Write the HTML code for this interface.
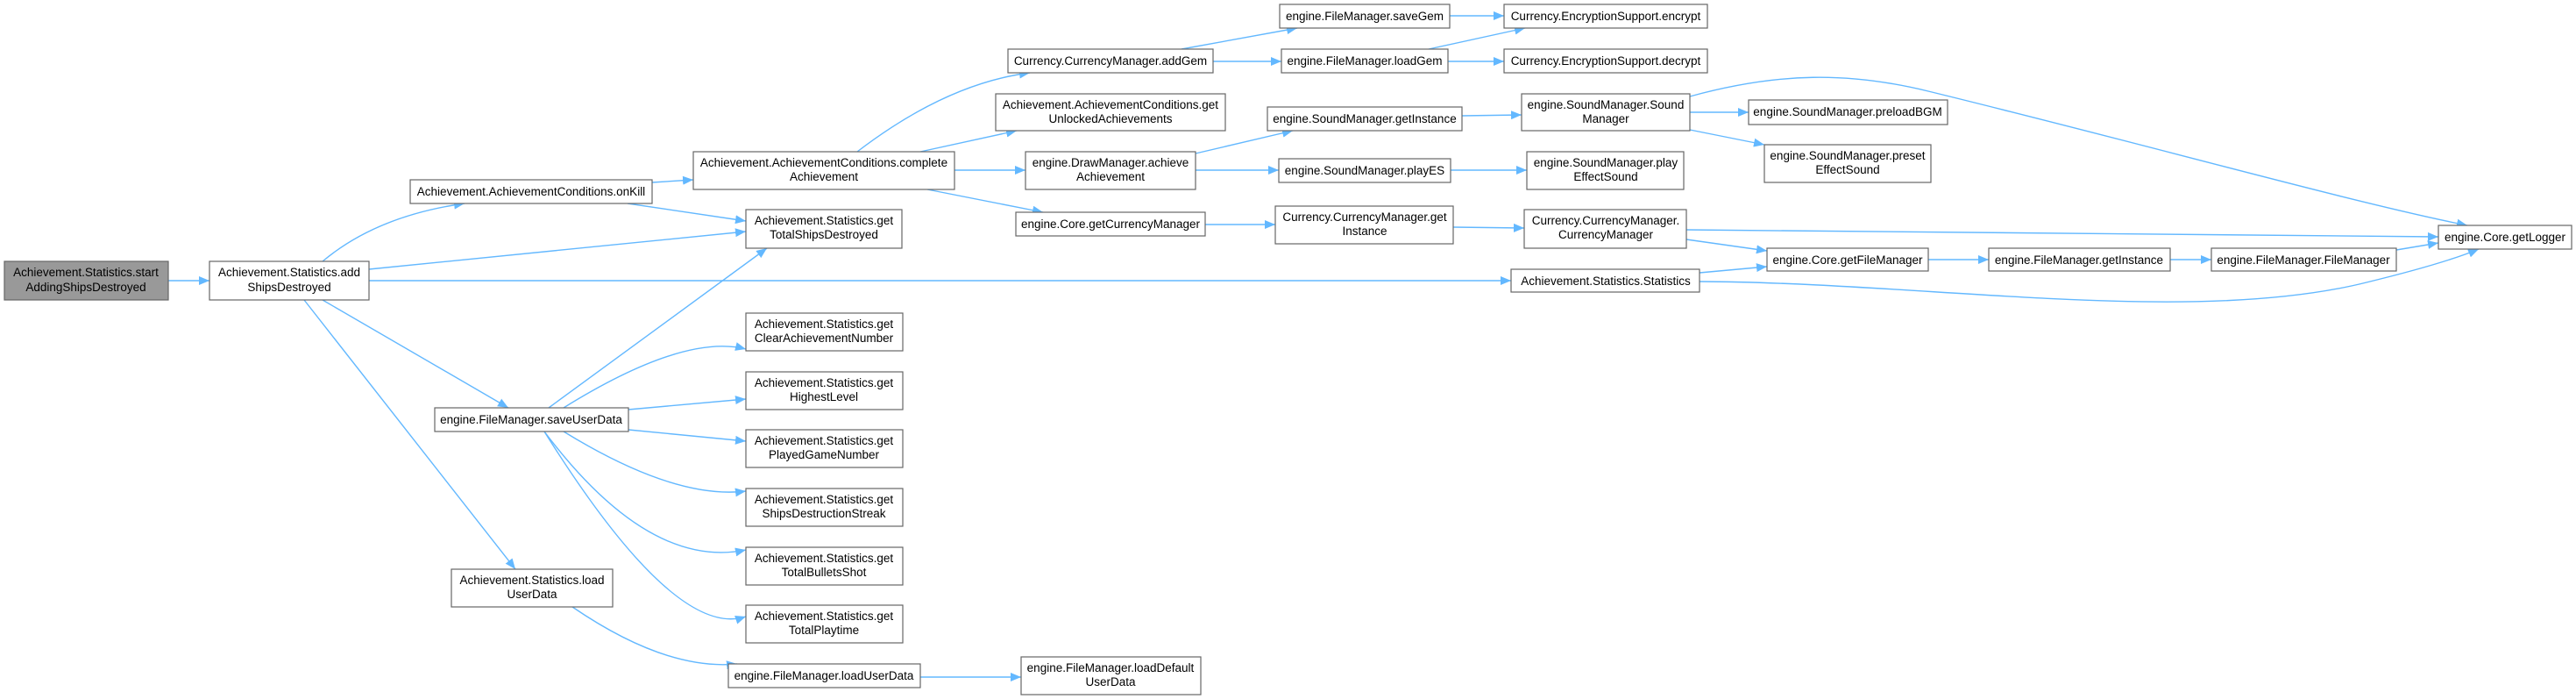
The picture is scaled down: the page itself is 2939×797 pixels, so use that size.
<!DOCTYPE html>
<html><head><meta charset="utf-8"><style>
html,body{margin:0;padding:0;background:#fff;}
svg{display:block;}
text{font-family:"Liberation Sans",Arial,sans-serif;font-size:13.5px;fill:#000;text-anchor:middle;}
.n{fill:#fff;stroke:#666;stroke-width:1.2;}
.g{fill:#999;stroke:#666;stroke-width:1.2;}
.e{fill:none;stroke:#63B8FF;stroke-width:1.4;marker-end:url(#a);}
</style></head><body>
<svg width="2939" height="797" viewBox="0 0 2939 797" xmlns="http://www.w3.org/2000/svg">
<defs><marker id="a" markerUnits="userSpaceOnUse" markerWidth="12" markerHeight="10" refX="12" refY="5" orient="auto"><path d="M0,0 L12,5 L0,10 z" fill="#63B8FF"/></marker></defs>

<!-- edges -->
<path class="e" d="M192,320 L239,320"/>
<path class="e" d="M368,298 Q430,246 530,232"/>
<path class="e" d="M421,307 L851,264"/>
<path class="e" d="M421,320 L1724,320"/>
<path class="e" d="M368,342 L580,465"/>
<path class="e" d="M347,342 L588,649"/>
<path class="e" d="M744,208 L791,205"/>
<path class="e" d="M716,232 L851,252"/>
<path class="e" d="M978,173 Q1080,95 1175,83"/>
<path class="e" d="M1050,173 L1160,149"/>
<path class="e" d="M1089,194 L1170,194"/>
<path class="e" d="M1058,216 L1190,242"/>
<path class="e" d="M626,465 L875,283"/>
<path class="e" d="M643,465 Q780,380 851,398"/>
<path class="e" d="M717,467 L851,455"/>
<path class="e" d="M717,490 L851,503"/>
<path class="e" d="M643,492 Q770,570 851,560"/>
<path class="e" d="M621,492 Q740,650 851,627"/>
<path class="e" d="M621,492 Q770,730 851,703"/>
<path class="e" d="M653,692 Q760,765 841,757"/>
<path class="e" d="M1050,772 L1165,772"/>
<path class="e" d="M1348,56 L1480,32"/>
<path class="e" d="M1384,70 L1462,70"/>
<path class="e" d="M1654,18 L1716,18"/>
<path class="e" d="M1630,56 L1740,32"/>
<path class="e" d="M1652,70 L1716,70"/>
<path class="e" d="M1364,175 L1475,149"/>
<path class="e" d="M1364,194 L1459,194"/>
<path class="e" d="M1375,256 L1455,256"/>
<path class="e" d="M1668,132 L1736,131"/>
<path class="e" d="M1655,194 L1742,194"/>
<path class="e" d="M1658,259 L1739,260"/>
<path class="e" d="M1928,128 L1995,128"/>
<path class="e" d="M1928,148 L2013,165"/>
<path class="e" d="M1928,110 C2030,82 2110,82 2200,104 C2450,165 2680,230 2815,257"/>
<path class="e" d="M1924,262 L2782,270"/>
<path class="e" d="M1924,273 L2016,286"/>
<path class="e" d="M1939,311 L2016,304"/>
<path class="e" d="M1939,321 C2200,322 2500,372 2700,322 Q2790,300 2828,284"/>
<path class="e" d="M2200,296 L2269,296"/>
<path class="e" d="M2476,296 L2523,296"/>
<path class="e" d="M2734,285 L2782,277"/>

<!-- nodes -->
<rect class="g" x="5" y="298" width="187" height="44"/><text x="98" y="315">Achievement.Statistics.start</text><text x="98" y="332">AddingShipsDestroyed</text>
<rect class="n" x="239" y="298" width="182" height="44"/><text x="330" y="315">Achievement.Statistics.add</text><text x="330" y="332">ShipsDestroyed</text>
<rect class="n" x="468" y="205" width="276" height="27"/><text x="606" y="223">Achievement.AchievementConditions.onKill</text>
<rect class="n" x="791" y="173" width="298" height="43"/><text x="940" y="190">Achievement.AchievementConditions.complete</text><text x="940" y="206">Achievement</text>
<rect class="n" x="851" y="239" width="178" height="44"/><text x="940" y="256">Achievement.Statistics.get</text><text x="940" y="272">TotalShipsDestroyed</text>
<rect class="n" x="496" y="465" width="221" height="27"/><text x="606" y="483">engine.FileManager.saveUserData</text>
<rect class="n" x="851" y="357" width="179" height="43"/><text x="940" y="374">Achievement.Statistics.get</text><text x="940" y="390">ClearAchievementNumber</text>
<rect class="n" x="851" y="424" width="179" height="43"/><text x="940" y="441">Achievement.Statistics.get</text><text x="940" y="457">HighestLevel</text>
<rect class="n" x="851" y="490" width="179" height="43"/><text x="940" y="507">Achievement.Statistics.get</text><text x="940" y="523">PlayedGameNumber</text>
<rect class="n" x="851" y="557" width="179" height="43"/><text x="940" y="574">Achievement.Statistics.get</text><text x="940" y="590">ShipsDestructionStreak</text>
<rect class="n" x="851" y="624" width="179" height="43"/><text x="940" y="641">Achievement.Statistics.get</text><text x="940" y="657">TotalBulletsShot</text>
<rect class="n" x="851" y="690" width="179" height="43"/><text x="940" y="707">Achievement.Statistics.get</text><text x="940" y="723">TotalPlaytime</text>
<rect class="n" x="515" y="649" width="184" height="43"/><text x="607" y="666">Achievement.Statistics.load</text><text x="607" y="682">UserData</text>
<rect class="n" x="831" y="757" width="219" height="27"/><text x="940" y="775">engine.FileManager.loadUserData</text>
<rect class="n" x="1165" y="749" width="205" height="43"/><text x="1267" y="766">engine.FileManager.loadDefault</text><text x="1267" y="782">UserData</text>
<rect class="n" x="1150" y="56" width="234" height="27"/><text x="1267" y="74">Currency.CurrencyManager.addGem</text>
<rect class="n" x="1136" y="107" width="262" height="42"/><text x="1267" y="124">Achievement.AchievementConditions.get</text><text x="1267" y="140">UnlockedAchievements</text>
<rect class="n" x="1170" y="173" width="194" height="43"/><text x="1267" y="190">engine.DrawManager.achieve</text><text x="1267" y="206">Achievement</text>
<rect class="n" x="1159" y="242" width="216" height="27"/><text x="1267" y="260">engine.Core.getCurrencyManager</text>
<rect class="n" x="1460" y="5" width="194" height="27"/><text x="1557" y="23">engine.FileManager.saveGem</text>
<rect class="n" x="1462" y="56" width="190" height="27"/><text x="1557" y="74">engine.FileManager.loadGem</text>
<rect class="n" x="1446" y="122" width="222" height="27"/><text x="1557" y="140">engine.SoundManager.getInstance</text>
<rect class="n" x="1459" y="181" width="196" height="27"/><text x="1557" y="199">engine.SoundManager.playES</text>
<rect class="n" x="1455" y="235" width="203" height="43"/><text x="1557" y="252">Currency.CurrencyManager.get</text><text x="1557" y="268">Instance</text>
<rect class="n" x="1716" y="5" width="232" height="27"/><text x="1832" y="23">Currency.EncryptionSupport.encrypt</text>
<rect class="n" x="1716" y="56" width="232" height="27"/><text x="1832" y="74">Currency.EncryptionSupport.decrypt</text>
<rect class="n" x="1736" y="107" width="192" height="42"/><text x="1832" y="124">engine.SoundManager.Sound</text><text x="1832" y="140">Manager</text>
<rect class="n" x="1995" y="114" width="227" height="28"/><text x="2108" y="132">engine.SoundManager.preloadBGM</text>
<rect class="n" x="2013" y="165" width="190" height="43"/><text x="2108" y="182">engine.SoundManager.preset</text><text x="2108" y="198">EffectSound</text>
<rect class="n" x="1742" y="173" width="179" height="43"/><text x="1832" y="190">engine.SoundManager.play</text><text x="1832" y="206">EffectSound</text>
<rect class="n" x="1739" y="239" width="185" height="44"/><text x="1832" y="256">Currency.CurrencyManager.</text><text x="1832" y="272">CurrencyManager</text>
<rect class="n" x="1724" y="307" width="215" height="26"/><text x="1832" y="325">Achievement.Statistics.Statistics</text>
<rect class="n" x="2016" y="283" width="184" height="26"/><text x="2108" y="301">engine.Core.getFileManager</text>
<rect class="n" x="2269" y="283" width="207" height="26"/><text x="2372" y="301">engine.FileManager.getInstance</text>
<rect class="n" x="2523" y="283" width="211" height="26"/><text x="2628" y="301">engine.FileManager.FileManager</text>
<rect class="n" x="2782" y="257" width="152" height="27"/><text x="2858" y="275">engine.Core.getLogger</text>
</svg>
</body></html>
